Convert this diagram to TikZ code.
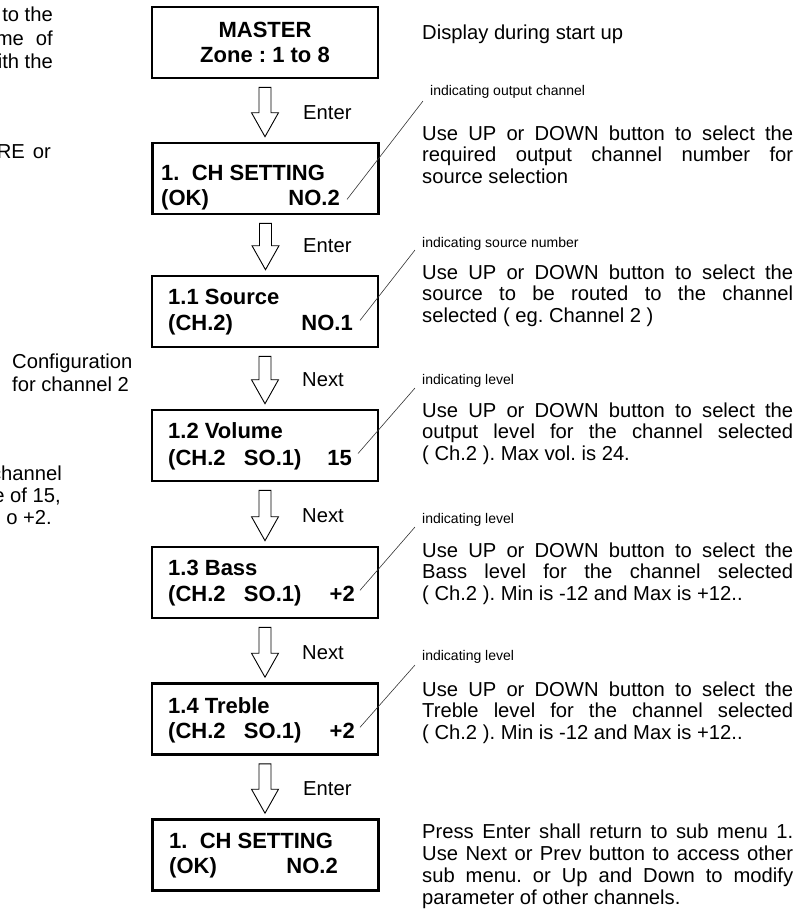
\documentclass[tikz,border=0pt]{standalone}
\usepackage{fontspec}
\setmainfont{Liberation Sans}
\usetikzlibrary{calc}
\frenchspacing
\newcommand{\bodyf}{\fontsize{20.2}{21.5}\selectfont}
\newcommand{\smallf}{\fontsize{14}{16}\selectfont}
\newcommand{\boxf}{\fontsize{22}{25}\selectfont\bfseries}
\newcommand{\jl}[1]{\makebox[371pt][s]{#1}}
\newcommand{\blkarrow}[2]{\draw[blk] let \p1=(#1.south), \p2=(#2.north) in
  (\x1-6,\y1-8) -- (\x1+6,\y1-8) -- (\x1+6,\y2+29) -- (\x1+13.5,\y2+29) --
  (\x1,\y2+5) -- (\x1-13.5,\y2+29) -- (\x1-6,\y2+29) -- cycle;}
\begin{document}
\begin{tikzpicture}[x=1pt,y=-1pt,
  lcd/.style={draw, line width=2.6pt, minimum width=226pt, minimum height=71pt, inner sep=0pt},
  bt/.style={font=\boxf, inner sep=0pt},
  lbl/.style={font=\bodyf, inner sep=0pt, anchor=base west},
  note/.style={font=\smallf, inner sep=0pt, anchor=base west},
  desc/.style={font=\bodyf, inner sep=0pt, anchor=base west},
  side/.style={font=\bodyf, inner sep=0pt},
  leader/.style={draw, line width=0.6pt, black!80},
  blk/.style={draw, line width=0.9pt, fill=white}]
\useasboundingbox (0,0) rectangle (795,911);

% boxes
\node[lcd] (b1) at (265,42.5) {};
\node[lcd] (b2) at (265.5,178.5) {};
\node[lcd] (b3) at (265,311.5) {};
\node[lcd] (b4) at (265,445.5) {};
\node[lcd] (b5) at (265,582.5) {};
\node[lcd] (b6) at (265,719) {};
\node[lcd] (b7) at (265.5,855) {};

% box texts
\node[bt, anchor=base] (t1a) at (265,37) {MASTER};
\node[bt, anchor=base] (t1b) at (265,62) {Zone : 1 to 8};
\node[bt, anchor=base west] (t2a) at (161,180) {1.\ \ CH SETTING};
\node[bt, anchor=base west] (t2b) at (161,205) {(OK)};
\node[bt, anchor=base east] (v2) at (340,205) {NO.2};
\node[bt, anchor=base west] (t3a) at (168,304) {1.1 Source};
\node[bt, anchor=base west] (t3b) at (168,330) {(CH.2)};
\node[bt, anchor=base east] (v3) at (353,330) {NO.1};
\node[bt, anchor=base west] (t4a) at (168,438) {1.2 Volume};
\node[bt, anchor=base west] (t4b) at (168,465) {(CH.2\ \ \ SO.1)};
\node[bt, anchor=base east] (v4) at (352,465) {15};
\node[bt, anchor=base west] (t5a) at (168,575) {1.3 Bass};
\node[bt, anchor=base west] (t5b) at (168,601) {(CH.2\ \ \ SO.1)};
\node[bt, anchor=base east] (v5) at (355,601) {+2};
\node[bt, anchor=base west] (t6a) at (168,713) {1.4 Treble};
\node[bt, anchor=base west] (t6b) at (168,738) {(CH.2\ \ \ SO.1)};
\node[bt, anchor=base east] (v6) at (355,738) {+2};
\node[bt, anchor=base west] (t7a) at (169,848) {1.\ \ CH SETTING};
\node[bt, anchor=base west] (t7b) at (169,873) {(OK)};
\node[bt, anchor=base east] (v7) at (338,873) {NO.2};

% block arrows
\blkarrow{b1}{b2}
\blkarrow{b2}{b3}
\blkarrow{b3}{b4}
\blkarrow{b4}{b5}
\blkarrow{b5}{b6}
\blkarrow{b6}{b7}

% arrow labels
\node[lbl] (a1) at (303,119) {Enter};
\node[lbl] (a2) at (303,252) {Enter};
\node[lbl] (a3) at (302,386) {Next};
\node[lbl] (a4) at (302,522) {Next};
\node[lbl] (a5) at (302,659) {Next};
\node[lbl] (a6) at (303,795) {Enter};

% notes
\node[note] (n2) at (430,95) {indicating output channel};
\node[note] (n3) at (422,247) {indicating source number};
\node[note] (n4) at (422,384) {indicating level};
\node[note] (n5) at (422,523) {indicating level};
\node[note] (n6) at (422,660) {indicating level};

% leaders
\draw[leader] ([shift={(7,2)}]v2.east) -- ([shift={(-7,6)}]n2.base west);
\draw[leader] ([shift={(7,-2)}]v3.east) -- ([shift={(-7,3)}]n3.base west);
\draw[leader] ([shift={(6,-4)}]v4.east) -- ([shift={(-7,4)}]n4.base west);
\draw[leader] ([shift={(5,-3)}]v5.east) -- ([shift={(-7,4)}]n5.base west);
\draw[leader] ([shift={(5,-3)}]v6.east) -- ([shift={(-7,5)}]n6.base west);

% descriptions
\node[desc] (d1) at (422,39) {Display during start up};
\node[desc] (d2) at (422,140) {\parbox[t]{371pt}{\jl{Use UP or DOWN button to select the}\\
  \jl{required output channel number for}\\source selection}};
\node[desc] (d3) at (422,279) {\parbox[t]{371pt}{\jl{Use UP or DOWN button to select the}\\
  \jl{source to be routed to the channel}\\selected ( eg. Channel 2 )}};
\node[desc] (d4) at (422,417) {\parbox[t]{371pt}{\jl{Use UP or DOWN button to select the}\\
  \jl{output level for the channel selected}\\( Ch.2 ). Max vol. is 24.}};
\node[desc] (d5) at (422,557) {\parbox[t]{371pt}{\jl{Use UP or DOWN button to select the}\\
  \jl{Bass level for the channel selected}\\( Ch.2 ). Min is -12 and Max is +12..}};
\node[desc] (d6) at (422,696) {\parbox[t]{371pt}{\jl{Use UP or DOWN button to select the}\\
  \jl{Treble level for the channel selected}\\( Ch.2 ). Min is -12 and Max is +12..}};
\node[desc] (d7) at (422,838) {\parbox[t]{371pt}{\fontsize{20.2}{22}\selectfont
  \jl{Press Enter shall return to sub menu 1.}\\
  \jl{Use Next or Prev button to access other}\\
  \jl{sub menu. or Up and Down to modify}\\parameter of other channels.}};

% cut-off left texts
\node[side, anchor=base east] (s1) at (53,21) {to the};
\node[side, anchor=base east] (s2) at (53,45) {me\hspace{12pt}of};
\node[side, anchor=base east] (s3) at (53,68) {ith the};
\node[side, anchor=base east] (s4) at (51,158) {RE\hspace{8pt}or};
\node[side, anchor=base west] (s5) at (12,368) {Configuration};
\node[side, anchor=base west] (s6) at (12,391) {for channel 2};
\node[side, anchor=base east] (s7) at (62,480) {channel};
\node[side, anchor=base east] (s8) at (61,502) {e of 15,};
\node[side, anchor=base east] (s9) at (52,524) {o +2.};
\end{tikzpicture}
\end{document}
